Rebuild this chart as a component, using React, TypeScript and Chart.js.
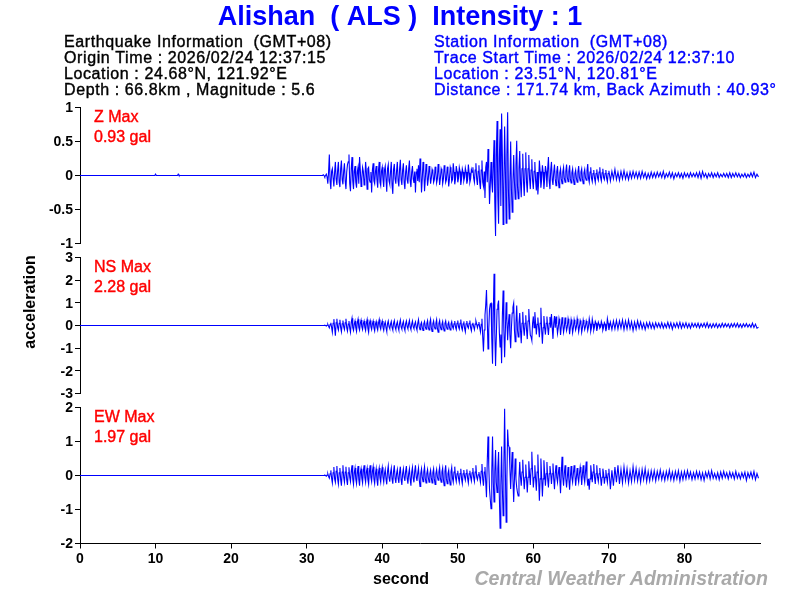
import { useEffect, useRef } from "react";
import { Chart, registerables } from "chart.js";

Chart.register(...registerables);

const STATION_TITLE = "Alishan  ( ALS )  Intensity : 1";
const EVENT_LINES = [
  "Earthquake Information  (GMT+08)",
  "Origin Time : 2026/02/24 12:37:15",
  "Location : 24.68°N, 121.92°E",
  "Depth : 66.8km , Magnitude : 5.6",
];
const STATION_LINES = [
  "Station Information  (GMT+08)",
  "Trace Start Time : 2026/02/24 12:37:10",
  "Location : 23.51°N, 120.81°E",
  "Distance : 171.74 km, Back Azimuth : 40.93°",
];
const PEAK_NAMES = ["Z Max", "NS Max", "EW Max"];
const PEAK_VALUES = ["0.93 gal", "2.28 gal", "1.97 gal"];
const Y_TITLE = "acceleration";
const X_TITLE = "second";
const CREDIT = "Central Weather Administration";

const Y_LIMITS = [1, 3, 2];
const Y_STEPS = [0.5, 1, 1];
const X_MAX = 90;
const HIDDEN_X_TICKS = [90];

// before the P arrival the trace sits on zero, two tiny blips on Z only
const QUIET_SECONDS = [0, 9.9, 10, 10.1, 12.9, 13, 13.1, 31.8];
const Z_QUIET = [0, 0, 0.02, 0, 0, 0.02, 0, 0];
const NS_QUIET = [0, 0, 0, 0, 0, 0, 0, 0];
const EW_QUIET = [0, 0, 0, 0, 0, 0, 0, 0];

// one sample every 0.2 s from 32 s, ten per row (2 s)
const TRACE_START = 32;
const TRACE_STEP = 0.2;

const Z_TRACE = [
  0, 0.01, -0.02, 0.02, -0.12, 0.31, -0.2, 0.1, -0.16, 0.2,
  -0.14, 0.2, -0.17, 0.22, -0.13, 0.18, -0.2, 0.16, 0.31, -0.23,
  0.27, -0.2, 0.14, -0.18, 0.12, 0.27, -0.16, 0.12, -0.14, 0.2,
  -0.2, 0.12, -0.1, -0.25, 0.18, -0.12, 0.14, -0.18, 0.2, -0.15,
  0.12, -0.17, 0.14, -0.24, 0.16, -0.13, 0.2, -0.27, 0.17, -0.12,
  0.2, -0.16, 0.23, -0.14, 0.18, -0.2, 0.15, -0.12, 0.22, -0.17,
  0.14, -0.11, -0.25, 0.1, 0.15, 0.25, -0.25, 0.2, -0.23, 0.17,
  -0.15, 0.14, -0.12, 0.09, -0.1, 0.13, -0.11, 0.17, -0.14, 0.1,
  -0.12, 0.15, -0.1, 0.13, -0.16, 0.12, -0.09, 0.18, -0.13, 0.14,
  -0.1, 0.12, -0.14, 0.1, -0.08, 0.11, -0.12, 0.16, -0.1, 0.09,
  0.12, -0.1, 0.18, -0.14, 0.15, -0.2, 0.22, -0.16, -0.33, 0.2,
  0.39, -0.42, 0.2, -0.25, 0.52, -0.89, 0.8, -0.71, 0.68, 0.91,
  -0.72, 0.72, -0.7, 0.93, -0.64, 0.5, -0.54, 0.3, -0.35, 0.51,
  -0.34, 0.36, -0.32, 0.32, -0.3, 0.34, -0.25, 0.3, -0.2, 0.24,
  -0.2, 0.2, -0.22, -0.28, 0.22, -0.18, 0.15, -0.2, 0.14, -0.17,
  0.27, -0.2, 0.2, -0.14, 0.16, -0.15, 0.14, -0.18, 0.1, -0.12,
  0.12, -0.1, 0.16, -0.09, 0.15, -0.11, 0.1, -0.13, 0.08, -0.1,
  0.14, -0.08, 0.1, -0.12, 0.09, -0.07, 0.17, -0.1, 0.12, -0.09,
  0.08, -0.1, 0.09, -0.07, 0.12, -0.08, 0.1, -0.06, 0.08, -0.09,
  0.07, -0.08, 0.06, -0.05, 0.09, -0.06, 0.05, -0.07, 0.06, -0.05,
  0.07, -0.05, 0.04, -0.06, 0.05, -0.04, 0.06, -0.03, 0.05, -0.04,
  0.05, -0.04, 0.06, -0.03, 0.04, -0.05, 0.03, -0.04, 0.05, -0.03,
  0.04, -0.03, 0.05, -0.02, 0.04, -0.03, 0.06, -0.04, 0.03, -0.02,
  0.05, -0.03, 0.04, -0.05, 0.03, -0.02, 0.04, -0.03, 0.03, -0.04,
  0.04, -0.02, 0.03, -0.03, 0.04, -0.02, 0.03, -0.02, 0.04, -0.03,
  0.05, -0.04, 0.06, -0.02, 0.03, -0.04, 0.03, -0.02, 0.04, -0.03,
  0.03, -0.02, 0.04, -0.03, 0.02, -0.02, 0.03, -0.02, 0.03, -0.03,
  0.04, -0.03, 0.03, -0.02, 0.04, -0.02, 0.03, -0.03, 0.02, -0.02,
  0.03, -0.03, 0.02, -0.02, 0.04, -0.02, 0.05, -0.03, 0.02, -0.02,
];

const NS_TRACE = [
  0, 0, 0.01, -0.02, 0.05, -0.1, 0.12, -0.3, 0.28, -0.45,
  0.3, -0.2, 0.25, -0.28, 0.22, -0.18, 0.3, -0.25, 0.2, -0.3,
  0.32, -0.22, 0.2, -0.26, 0.28, -0.2, 0.24, -0.18, 0.2, -0.22,
  0.26, -0.3, 0.22, -0.18, 0.2, -0.24, 0.18, -0.2, 0.26, -0.16,
  0.2, -0.22, 0.16, -0.26, 0.2, -0.14, 0.18, -0.2, 0.22, -0.18,
  0.16, -0.2, 0.24, -0.16, 0.18, -0.22, 0.2, -0.15, 0.22, -0.18,
  0.2, -0.14, 0.16, -0.2, 0.26, -0.18, 0.14, -0.22, 0.18, -0.16,
  0.22, -0.2, 0.28, -0.26, 0.2, -0.15, 0.26, -0.3, 0.22, -0.18,
  0.18, -0.24, 0.2, -0.16, 0.15, -0.2, 0.17, -0.14, 0.2, -0.18,
  0.22, -0.16, 0.26, -0.2, 0.18, -0.28, 0.2, -0.12, 0.22, -0.24,
  0.12, -0.18, 0.2, -0.1, 0.15, -0.28, 0.3, -1.15, 0.45, 1.57,
  -1.03, 0.72, 0.98, -1.69, 2.28, -1.79, 0.72, 1.1, -0.95, -1.66,
  1.54, -1.4, 1.03, -0.65, 0.5, -1, 0.55, 0.98, -0.72, 0.88,
  -0.5, 0.55, -0.78, 0.6, -0.45, 0.45, -0.6, 0.73, -0.42, -0.66,
  0.4, 0.59, -0.4, 0.35, -0.52, 0.78, -0.8, 0.42, -0.4, 0.4,
  -0.42, 0.38, 0.51, -0.59, 0.42, 0.4, -0.35, 0.3, -0.42, 0.36,
  -0.3, 0.35, -0.22, 0.3, -0.38, 0.26, -0.32, 0.25, -0.2, 0.3,
  -0.28, 0.22, -0.3, 0.24, -0.18, 0.2, -0.22, 0.3, -0.25, 0.28,
  -0.2, 0.18, -0.24, 0.15, -0.12, 0.18, -0.2, 0.13, -0.25, 0.3,
  -0.2, 0.15, -0.18, 0.2, -0.15, 0.22, -0.16, 0.2, -0.12, 0.24,
  -0.18, 0.2, -0.15, 0.24, -0.14, 0.17, -0.22, 0.15, -0.16, 0.2,
  -0.12, 0.16, -0.14, 0.1, -0.18, 0.12, -0.1, 0.14, -0.12, 0.1,
  -0.14, 0.12, -0.08, 0.1, -0.1, 0.12, -0.12, 0.08, -0.1, 0.14,
  -0.1, 0.12, -0.16, 0.1, -0.08, 0.12, -0.1, 0.14, -0.12, 0.1,
  -0.08, 0.12, -0.1, 0.08, -0.12, 0.1, -0.06, 0.09, -0.08, 0.1,
  -0.1, 0.08, -0.06, 0.1, -0.08, 0.12, -0.09, 0.07, -0.1, 0.08,
  -0.07, 0.09, -0.1, 0.06, -0.08, 0.1, -0.07, 0.08, -0.06, 0.07,
  -0.1, 0.08, -0.06, 0.09, -0.07, 0.1, -0.08, 0.06, -0.09, 0.07,
  -0.06, 0.08, -0.07, 0.05, -0.08, 0.1, -0.09, 0.06, -0.12, -0.08,
];

const EW_TRACE = [
  0, 0, 0.01, -0.02, 0.05, -0.08, 0.15, -0.22, 0.25, -0.2,
  0.28, -0.25, 0.22, -0.3, 0.3, -0.2, 0.26, -0.28, 0.24, -0.18,
  0.3, -0.26, 0.22, -0.24, 0.28, -0.3, 0.2, -0.22, 0.3, -0.2,
  0.22, -0.26, 0.3, -0.18, 0.26, -0.24, 0.2, -0.3, 0.22, -0.2,
  0.24, -0.2, 0.18, -0.26, 0.28, -0.18, 0.22, -0.24, 0.3, -0.22,
  0.18, -0.22, 0.26, -0.28, 0.2, -0.16, 0.28, -0.24, 0.2, -0.3,
  0.24, -0.2, 0.3, -0.16, 0.22, -0.32, 0.2, -0.18, 0.26, -0.22,
  0.18, -0.2, 0.16, -0.22, 0.2, -0.26, 0.18, -0.14, 0.24, -0.2,
  0.22, -0.3, 0.3, -0.24, 0.16, -0.28, 0.24, -0.2, 0.26, -0.18,
  0.14, -0.2, 0.2, -0.24, 0.16, -0.14, 0.18, -0.22, 0.14, -0.16,
  0.22, -0.18, 0.3, -0.12, 0.1, -0.2, 0.34, -0.3, 0.25, -0.64,
  1.15, -0.4, -0.98, 1.15, -0.78, 0.75, -0.5, 0.69, -1.55, 0.85,
  -1.18, 1.96, -1.37, 1.35, 0.83, -0.4, 0.69, -0.78, 0.5, -0.35,
  -0.6, 0.4, -0.3, 0.46, -0.4, 0.32, -0.5, 0.42, -0.28, 0.7,
  -0.35, 0.3, -0.45, 0.62, -0.74, 0.5, -0.62, 0.45, -0.3, 0.4,
  -0.35, 0.28, -0.25, 0.35, -0.4, 0.3, -0.2, 0.25, -0.52, 0.55,
  -0.3, 0.3, -0.35, 0.25, -0.42, 0.28, -0.2, 0.3, -0.3, 0.22,
  -0.2, 0.25, -0.28, 0.3, -0.2, 0.41, -0.3, -0.42, 0.3, -0.2,
  0.34, -0.25, 0.3, -0.18, 0.22, -0.3, 0.2, -0.24, 0.16, -0.2,
  0.2, -0.4, 0.15, -0.3, 0.25, -0.2, 0.3, -0.25, 0.18, -0.22,
  0.25, -0.15, 0.2, -0.22, 0.14, -0.18, 0.26, -0.14, 0.2, -0.16,
  0.15, -0.2, 0.18, -0.12, 0.2, -0.18, 0.12, -0.16, 0.14, -0.12,
  0.14, -0.16, 0.12, -0.1, 0.16, -0.12, 0.1, -0.14, 0.12, -0.1,
  0.16, -0.12, 0.1, -0.14, 0.12, -0.1, 0.14, -0.16, 0.1, -0.12,
  0.12, -0.1, 0.14, -0.08, 0.1, -0.12, 0.08, -0.1, 0.12, -0.08,
  0.1, -0.12, 0.08, -0.14, 0.1, -0.06, 0.12, -0.1, 0.14, -0.08,
  0.06, -0.1, 0.08, -0.12, 0.1, -0.08, 0.12, -0.06, 0.08, -0.1,
  0.1, -0.06, 0.08, -0.1, 0.12, -0.08, 0.06, -0.1, 0.08, -0.06,
  0.1, -0.14, 0.08, -0.06, 0.1, -0.08, 0.12, -0.12, 0.06, -0.08,
];

// in-between samples, 0.1 s after each row value above, 32 s to 70 s
const Z_MID = [
  0, 0, 0, -0.02, 0.05, -0.08, 0.06, -0.04, 0.05, -0.05,
  0.08, -0.1, 0.1, -0.06, 0.07, -0.08, 0.05, 0.2, -0.12, 0.1,
  -0.08, 0.06, -0.1, 0.05, -0.12, 0.08, -0.05, 0.06, -0.08, 0.05,
  0.1, -0.06, 0.05, 0.08, -0.08, 0.05, -0.06, 0.07, -0.1, 0.06,
  -0.06, 0.08, -0.05, 0.1, -0.08, 0.06, -0.14, 0.09, -0.05, 0.07,
  -0.08, 0.1, -0.06, 0.08, -0.1, 0.05, -0.06, 0.1, -0.08, 0.05,
  -0.05, 0.06, 0.05, -0.08, -0.1, 0.08, -0.05, 0.08, -0.06, 0.07,
  -0.05, 0.06, -0.04, 0.05, -0.06, 0.04, -0.05, 0.05, -0.04, 0.06,
  -0.05, 0.07, -0.06, 0.04, -0.05, 0.07, -0.06, 0.05, -0.05, 0.06,
  -0.04, 0.06, -0.05, 0.05, -0.03, 0.05, -0.06, 0.04, -0.05, 0.05,
  -0.04, 0.08, -0.05, 0.06, -0.1, 0.08, -0.1, 0.06, 0.12, -0.1,
  0.1, -0.15, -0.1, 0.15, -0.4, 0.3, -0.3, 0.25, -0.45, 0.3,
  -0.2, 0.1, 0.3, -0.2, -0.1, -0.2, -0.1, -0.1, 0.15, -0.15,
  0.1, -0.1, 0.1, -0.1, 0.1, -0.1, 0.1, -0.05, 0.08, -0.08,
  0.06, -0.08, 0.05, -0.1, 0.06, -0.06, 0.05, -0.05, 0.06, 0.1,
  -0.08, 0.08, -0.06, 0.05, -0.05, 0.06, -0.06, 0.04, -0.05, 0.05,
  -0.04, 0.06, -0.03, 0.06, -0.05, 0.04, -0.05, 0.03, -0.04, 0.05,
  -0.03, 0.05, -0.05, 0.04, -0.03, 0.07, -0.04, 0.05, -0.04, 0.03,
  -0.04, 0.03, -0.03, 0.05, -0.03, 0.04, -0.03, 0.03, -0.04, 0.03,
];

const NS_MID = [
  0, 0, 0, 0.01, -0.03, 0.04, -0.08, 0.1, -0.1, 0.12,
  -0.08, 0.1, -0.1, 0.08, -0.06, 0.12, -0.1, 0.06, -0.12, 0.14,
  -0.1, 0.06, -0.1, 0.12, -0.08, 0.1, -0.05, 0.08, -0.08, 0.1,
  -0.12, 0.1, -0.05, 0.07, -0.1, 0.06, -0.08, 0.1, -0.05, 0.07,
  -0.08, 0.06, -0.1, 0.08, -0.05, 0.06, -0.08, 0.1, -0.06, 0.05,
  -0.07, 0.1, -0.06, 0.07, -0.1, 0.08, -0.05, 0.08, -0.07, 0.06,
  -0.05, 0.06, -0.08, 0.1, -0.06, 0.05, -0.08, 0.07, -0.05, 0.09,
  -0.08, 0.12, -0.1, 0.07, -0.05, 0.1, -0.12, 0.08, -0.06, 0.05,
  -0.1, 0.08, -0.05, 0.06, -0.08, 0.06, -0.05, 0.07, -0.07, 0.1,
  -0.06, 0.1, -0.08, 0.07, -0.12, 0.08, -0.05, 0.1, -0.1, 0.05,
  -0.05, 0.06, 0.06, 0.04, -0.08, 0.05, -0.5, -0.2, 0.9, 0.3,
  -0.2, 0.95, -0.6, 0.5, -0.3, -0.5, 0.9, -0.3, -0.4, 0.4,
  -0.2, -0.2, 0.2, 0.1, -0.4, -0.1, 0.8, -0.2, 0.1, -0.2,
  0.1, -0.2, 0.1, -0.1, 0.1, -0.2, 0.2, 0.1, -0.5, 0.1,
  -0.1, 0.1, 0.05, -0.1, 0.1, -0.2, -0.1, -0.1, 0.1, -0.1,
  0.1, -0.1, -0.1, 0.1, -0.1, 0.05, -0.1, 0.1, -0.05, 0.06,
  -0.08, 0.05, -0.05, 0.1, -0.08, 0.05, -0.1, 0.05, -0.06, 0.07,
  -0.06, 0.08, -0.1, 0.05, -0.05, 0.06, -0.05, 0.08, -0.1, 0.07,
  -0.05, 0.1, -0.06, 0.05, -0.07, 0.05, -0.08, 0.06, -0.08, 0.1,
];

const EW_MID = [
  0, 0, 0, 0.01, -0.03, 0.05, -0.08, 0.08, -0.1, 0.12,
  -0.1, 0.08, -0.12, 0.1, -0.06, 0.1, -0.12, 0.08, -0.06, 0.12,
  -0.1, 0.08, -0.1, 0.06, -0.12, 0.08, -0.08, 0.12, -0.06, 0.1,
  -0.12, 0.1, -0.06, 0.12, -0.1, 0.05, -0.12, 0.08, -0.07, 0.1,
  -0.05, 0.06, -0.1, 0.12, -0.06, 0.08, -0.1, 0.12, -0.08, 0.06,
  -0.08, 0.1, -0.12, 0.06, -0.05, 0.12, -0.08, 0.06, -0.1, 0.1,
  -0.08, 0.12, -0.05, 0.07, -0.12, 0.06, -0.05, 0.1, -0.08, 0.06,
  -0.06, 0.05, -0.07, 0.08, -0.1, 0.06, -0.04, 0.1, -0.08, 0.1,
  -0.12, 0.12, -0.1, 0.06, -0.12, 0.1, -0.08, 0.1, -0.06, 0.05,
  -0.08, 0.06, -0.1, 0.05, -0.04, 0.06, -0.08, 0.05, -0.05, 0.08,
  -0.06, 0.1, -0.04, 0.02, -0.06, 0.12, -0.1, 0.1, -0.2, 0.4,
  0.3, -0.7, 0.1, -0.2, 0.1, -0.2, 0.2, -0.6, -0.3, -0.4,
  0.3, 0.1, -0.1, 0.9, 0.2, 0.2, -0.1, -0.1, -0.1, -0.5,
  -0.1, -0.05, 0.1, -0.05, -0.05, -0.1, -0.05, 0.05, 0.2, 0.1,
  -0.05, -0.1, 0.1, -0.1, -0.1, -0.05, -0.1, 0.05, 0.05, -0.1,
  0.05, 0.05, 0.05, -0.1, 0.05, -0.05, 0.05, -0.1, 0.05, -0.05,
  0.05, -0.1, -0.05, -0.1, -0.05, -0.05, 0.05, 0.05, -0.05, -0.05,
  0.05, 0.05, 0.05, -0.05, 0.1, -0.05, -0.1, -0.1, 0.05, 0.1,
  -0.05, 0.05, -0.05, 0.05, -0.05, -0.05, 0.05, -0.05, -0.05, 0.05,
];

const SANS = '"Liberation Sans", sans-serif';
const BLUE = "#0000ff";

function tracePoints(quiet: number[], trace: number[], mid: number[]) {
  const head = QUIET_SECONDS.map((x, i) => ({ x, y: quiet[i] }));
  const main = trace.map((y, i) => ({ x: TRACE_START + i * TRACE_STEP, y }));
  const between = mid.map((y, i) => ({ x: TRACE_START + i * TRACE_STEP + TRACE_STEP / 2, y }));
  return head.concat(main, between).sort((a, b) => a.x - b.x);
}

// GDI-ish thick regular text: same shapes as regular, a bit more ink
function inkText(ctx: CanvasRenderingContext2D, text: string, x: number, y: number, thick = 0.4) {
  ctx.fillText(text, x, y);
  ctx.lineWidth = thick;
  ctx.strokeStyle = ctx.fillStyle as string;
  ctx.strokeText(text, x, y);
}

const notesPlugin = {
  id: "notes",
  afterDraw(chart: Chart) {
    const { ctx, chartArea, scales } = chart;
    ctx.save();
    ctx.textBaseline = "middle";

    ctx.textAlign = "center";
    ctx.fillStyle = BLUE;
    ctx.font = `bold 27px ${SANS}`;
    ctx.fillText(STATION_TITLE, 400, 18);

    ctx.textAlign = "left";
    ctx.font = `16px ${SANS}`;
    (ctx as any).letterSpacing = "0.6px";
    ctx.fillStyle = "#000000";
    EVENT_LINES.forEach((line, i) => inkText(ctx, line, 64, 42.5 + i * 16));
    ctx.fillStyle = BLUE;
    STATION_LINES.forEach((line, i) => inkText(ctx, line, 434, 42.5 + i * 16));
    (ctx as any).letterSpacing = "0px";

    ctx.fillStyle = "#ff0000";
    ["y", "y2", "y3"].forEach((id, i) => {
      const top = scales[id].top;
      inkText(ctx, PEAK_NAMES[i], chartArea.left + 14, top + 10.5);
      inkText(ctx, PEAK_VALUES[i], chartArea.left + 14, top + 30.5);
    });

    ctx.fillStyle = "#000000";
    ctx.textAlign = "center";
    ctx.font = `bold 16px ${SANS}`;
    ctx.fillText(X_TITLE, 401, 580);
    ctx.save();
    ctx.translate(31, 302);
    ctx.rotate(-Math.PI / 2);
    ctx.fillText(Y_TITLE, 0, 0);
    ctx.restore();

    ctx.fillStyle = "#a9a9a9";
    ctx.textAlign = "right";
    ctx.font = `italic bold 19.6px ${SANS}`;
    ctx.fillText(CREDIT, 768, 580);
    ctx.restore();
  },
};

function yScale(i: number) {
  return {
    type: "linear",
    position: "left",
    stack: "traces",
    stackWeight: 136,
    min: -Y_LIMITS[i],
    max: Y_LIMITS[i],
    afterFit(scale: any) {
      scale.width = 80;
    },
    border: { color: "#000000", width: 1 },
    grid: { drawOnChartArea: false, tickLength: 5, tickColor: "#000000", tickWidth: 1 },
    ticks: {
      stepSize: Y_STEPS[i],
      autoSkip: false,
      color: "#000000",
      padding: 2,
      labelOffset: 1,
      font: { family: SANS, size: 14, weight: "bold" },
      callback: (value: number) => String(value),
    },
  };
}

const spacerScale = {
  type: "linear",
  position: "left",
  stack: "traces",
  stackWeight: 14,
  display: false,
};

export default function App() {
  const canvasRef = useRef<HTMLCanvasElement>(null);

  useEffect(() => {
    if (!canvasRef.current) return;
    const line = { borderColor: BLUE, borderWidth: 1.1, pointRadius: 0, tension: 0, fill: false };
    const chart = new Chart(canvasRef.current, {
      type: "line",
      data: {
        datasets: [
          { ...line, label: "Z", yAxisID: "y", data: tracePoints(Z_QUIET, Z_TRACE, Z_MID) },
          { ...line, label: "NS", yAxisID: "y2", data: tracePoints(NS_QUIET, NS_TRACE, NS_MID) },
          { ...line, label: "EW", yAxisID: "y3", data: tracePoints(EW_QUIET, EW_TRACE, EW_MID) },
        ],
      },
      options: {
        responsive: false,
        animation: false,
        devicePixelRatio: 1,
        layout: { padding: { left: 0, top: 107.5, right: 40, bottom: 0 } },
        plugins: { legend: { display: false }, tooltip: { enabled: false } },
        scales: {
          x: {
            type: "linear",
            position: "bottom",
            min: 0,
            max: X_MAX,
            afterFit(scale: any) {
              scale.height = 56.5;
            },
            afterBuildTicks(scale: any) {
              scale.ticks = scale.ticks.filter((t: any) => !HIDDEN_X_TICKS.includes(t.value));
            },
            border: { color: "#000000", width: 1 },
            grid: { drawOnChartArea: false, tickLength: 5, tickColor: "#000000", tickWidth: 1 },
            ticks: {
              stepSize: 10,
              color: "#000000",
              padding: 2,
              maxRotation: 0,
              font: { family: SANS, size: 14, weight: "bold" },
            },
          },
          y3: yScale(2),
          gap2: spacerScale,
          y2: yScale(1),
          gap1: spacerScale,
          y: yScale(0),
        },
      } as any,
      plugins: [notesPlugin],
    });
    return () => chart.destroy();
  }, []);

  return (
    <div style={{ position: "fixed", left: 0, top: 0, width: 800, height: 600, background: "#ffffff" }}>
      <canvas ref={canvasRef} width={800} height={600} style={{ display: "block" }} />
    </div>
  );
}
